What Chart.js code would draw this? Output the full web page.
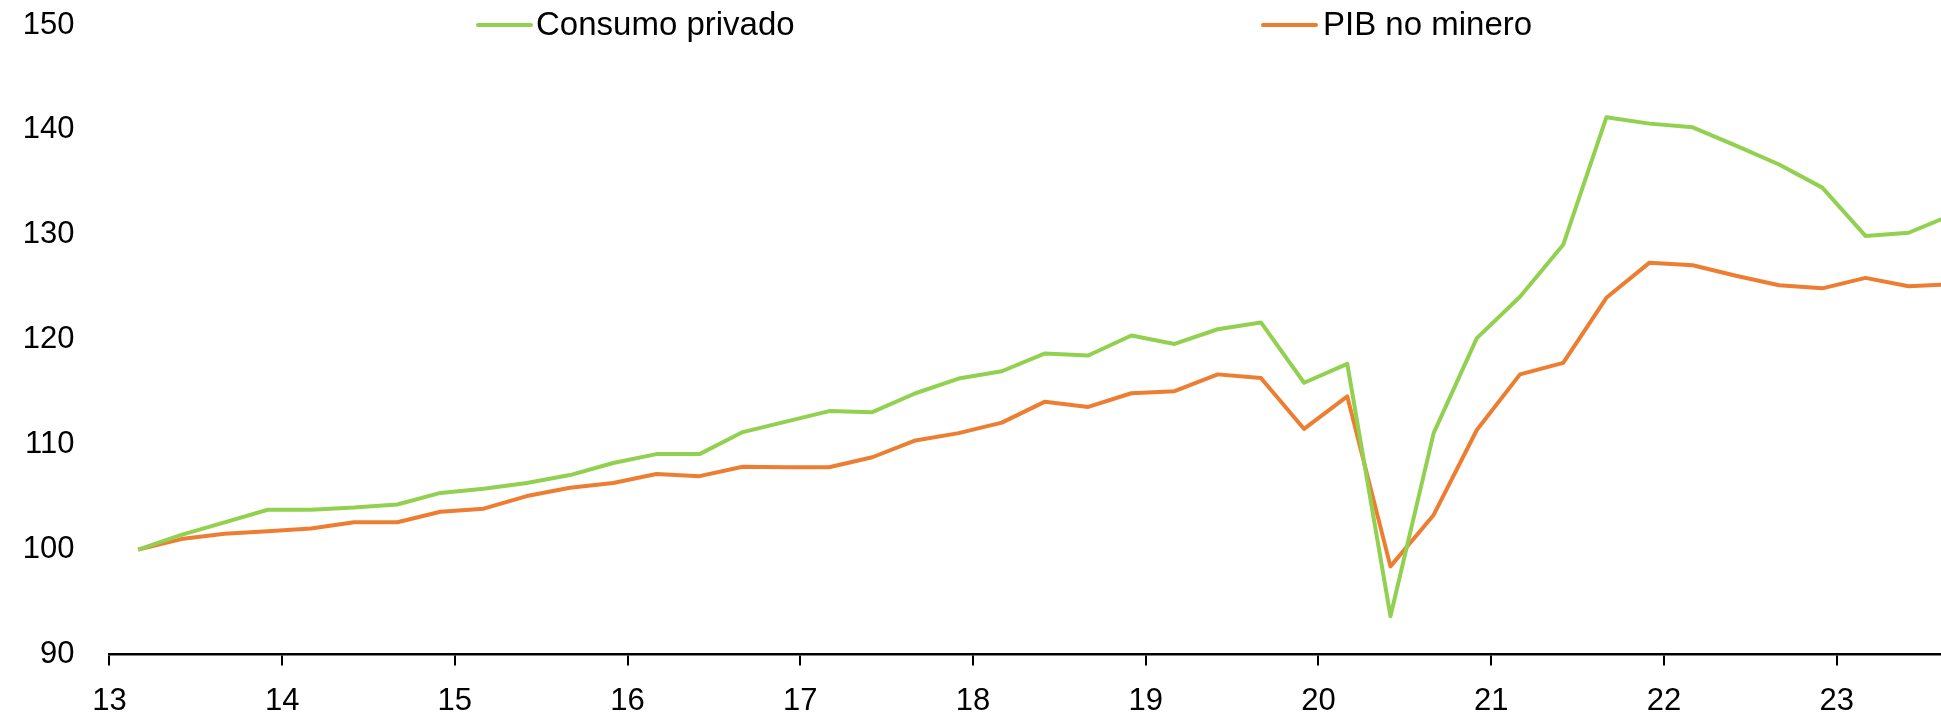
<!DOCTYPE html>
<html>
<head>
<meta charset="utf-8">
<script src="https://cdn.jsdelivr.net/npm/chart.js@4"></script>
<style>
  body { margin: 0; background: #fff; }
  #wrap { width: 1941px; height: 720px; }
</style>
</head>
<body>
<div id="wrap"><canvas id="myChart"></canvas></div>
<script>
// trimestres (año, trimestre)
const quarters = [
  '2013T1','2013T2','2013T3','2013T4','2014T1','2014T2','2014T3','2014T4',
  '2015T1','2015T2','2015T3','2015T4','2016T1','2016T2','2016T3','2016T4',
  '2017T1','2017T2','2017T3','2017T4','2018T1','2018T2','2018T3','2018T4',
  '2019T1','2019T2','2019T3','2019T4','2020T1','2020T2','2020T3','2020T4',
  '2021T1','2021T2','2021T3','2021T4','2022T1','2022T2','2022T3','2022T4',
  '2023T1','2023T2','2023T3'
];

// Consumo privado (índice 2013T1 = 100)
const consumoPrivado = [
  100.0, 101.4, 102.6, 103.8, 103.8, 104.0, 104.3, 105.4,
  105.8, 106.35, 107.1, 108.25, 109.1, 109.1, 111.2, 112.2,
  113.2, 113.1, 114.9, 116.3, 117.0, 118.7, 118.5, 120.4,
  119.6, 121.0, 121.65, 115.9, 117.7, 93.65, 111.1, 120.15,
  124.1, 129.05, 141.2, 140.6, 140.25, 138.5, 136.7, 134.5,
  129.9, 130.2, 131.9
];

// PIB no minero
const pibNoMinero = [
  100.0, 101.0, 101.5, 101.75, 102.0, 102.6, 102.6, 103.6,
  103.9, 105.1, 105.9, 106.35, 107.2, 107.0, 107.9, 107.85,
  107.85, 108.8, 110.4, 111.1, 112.1, 114.1, 113.6, 114.9,
  115.1, 116.7, 116.35, 111.5, 114.6, 98.4, 103.3, 111.4,
  116.7, 117.8, 124.0, 127.35, 127.1, 126.1, 125.2, 124.9,
  125.9, 125.1, 125.3
];

const yearLabels = ['13','14','15','16','17','18','19','20','21','22','23'];
const yTicks = [90, 100, 110, 120, 130, 140, 150];

// el punto de cada trimestre cae en el último mes del trimestre (mar, jun, sep, dic)
function quarterToX(q) {
  const year = parseInt(q.slice(0, 4));
  const t = parseInt(q.slice(5));
  return year + (3 * t - 1) / 12;
}

function toPoints(values) {
  return values.map(function (v, i) { return { x: quarterToX(quarters[i]), y: v }; });
}

const FONT = 'Liberation Sans, Arial, sans-serif';

// leyenda dibujada dentro del área del gráfico
const legendPlugin = {
  id: 'floatingLegend',
  afterDatasetsDraw(chart) {
    const ctx = chart.ctx;
    const spots = [
      { x1: 478, x2: 531, tx: 536 },
      { x1: 1263, x2: 1316, tx: 1323 }
    ];
    ctx.save();
    chart.data.datasets.forEach(function (ds, i) {
      const s = spots[i];
      ctx.strokeStyle = ds.borderColor;
      ctx.lineWidth = 4;
      ctx.lineCap = 'round';
      ctx.beginPath();
      ctx.moveTo(s.x1, 25);
      ctx.lineTo(s.x2, 25);
      ctx.stroke();
      ctx.fillStyle = '#000';
      ctx.font = '33px ' + FONT;
      ctx.textBaseline = 'middle';
      ctx.textAlign = 'left';
      ctx.fillText(ds.label, s.tx, 26);
    });
    ctx.restore();
  }
};

new Chart(document.getElementById('myChart'), {
  type: 'line',
  data: {
    datasets: [{
      label: 'Consumo privado',
      data: toPoints(consumoPrivado),
      borderColor: '#92D050',
      borderWidth: 4,
      pointRadius: 0,
      tension: 0,
      borderJoinStyle: 'round'
    }, {
      label: 'PIB no minero',
      data: toPoints(pibNoMinero),
      borderColor: '#ED7D31',
      borderWidth: 4,
      pointRadius: 0,
      tension: 0,
      borderJoinStyle: 'round'
    }]
  },
  options: {
    responsive: true,
    maintainAspectRatio: false,
    animation: false,
    layout: { padding: { top: 25, right: 0, bottom: 0, left: 0 } },
    plugins: {
      legend: { display: false },
      tooltip: { enabled: false }
    },
    scales: {
      x: {
        type: 'linear',
        min: 2013,
        max: 2023.604,
        afterFit: function (scale) {
          scale.height = 65.5;
          scale.paddingLeft = 0;
          scale.paddingRight = 0;
        },
        afterBuildTicks: function (scale) {
          scale.ticks = yearLabels.map(function (l) { return { value: 2000 + parseInt(l) }; });
        },
        ticks: {
          stepSize: 1,
          includeBounds: false,
          color: '#000',
          padding: 17,
          maxRotation: 0,
          font: { family: FONT, size: 31 },
          callback: function (v) { return yearLabels[v - 2013]; }
        },
        grid: {
          display: true,
          drawOnChartArea: false,
          drawTicks: true,
          tickLength: 11,
          color: '#000',
          lineWidth: 2
        },
        border: { display: true, color: '#000', width: 2.5 }
      },
      y: {
        min: 90,
        max: 150,
        afterFit: function (scale) {
          scale.width = 109.4;
          scale.paddingTop = 0;
          scale.paddingBottom = 0;
        },
        afterBuildTicks: function (scale) {
          scale.ticks = yTicks.map(function (v) { return { value: v }; });
        },
        ticks: {
          color: '#000',
          padding: 35,
          font: { family: FONT, size: 31 }
        },
        grid: { display: false, drawTicks: false },
        border: { display: false }
      }
    }
  },
  plugins: [legendPlugin]
});
</script>
</body>
</html>
